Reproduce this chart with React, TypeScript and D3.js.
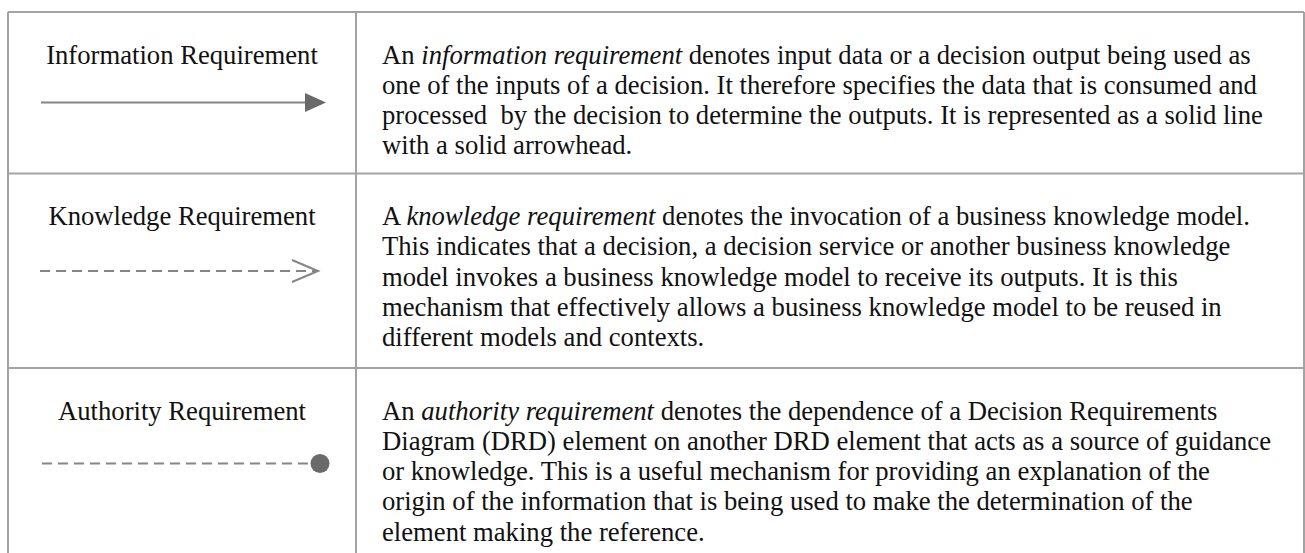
import { line, scaleLinear } from "d3";

// table content
const labels = ["Information Requirement", "Knowledge Requirement", "Authority Requirement"];

const connectors = ["solid-arrow", "dashed-open", "dashed-dot"];

// *...* marks the italic term
const infoLines = [
  "An *information requirement* denotes input data or a decision output being used as",
  "one of the inputs of a decision. It therefore specifies the data that is consumed and",
  "processed  by the decision to determine the outputs. It is represented as a solid line",
  "with a solid arrowhead.",
];
const knowledgeLines = [
  "A *knowledge requirement* denotes the invocation of a business knowledge model.",
  "This indicates that a decision, a decision service or another business knowledge",
  "model invokes a business knowledge model to receive its outputs. It is this",
  "mechanism that effectively allows a business knowledge model to be reused in",
  "different models and contexts.",
];
const authorityLines = [
  "An *authority requirement* denotes the dependence of a Decision Requirements",
  "Diagram (DRD) element on another DRD element that acts as a source of guidance",
  "or knowledge. This is a useful mechanism for providing an explanation of the",
  "origin of the information that is being used to make the determination of the",
  "element making the reference.",
];
const descriptions = [infoLines, knowledgeLines, authorityLines];

const width = 1305;
const height = 553;
const table = { left: 8, right: 1304, top: 12, divider: 356 };
const rowHeights = [161.5, 194.5, 220];
const lineHeight = 30.3;
const firstBaseline = 51.5;
const textX = 382;
const font = "'Liberation Serif', 'Times New Roman', serif";
const fontSize = 26.67;
const border = "#a3a3a3";
const grey = "#858585";
const dark = "#6a6a6a";

// arrow sits this far below the label baseline
const arrowDrop: Record<string, number> = {
  "solid-arrow": 39,
  "dashed-open": 46,
  "dashed-dot": 44,
};

const rowTops = rowHeights.reduce<number[]>(
  (acc, h, i) => [...acc, acc[i] + h],
  [table.top]
);

const pathOf = line<[number, number]>();

const Connector = ({ kind, y }: { kind: string; y: number }) => {
  const x = scaleLinear().domain([0, 1]).range([41, 326]);
  if (kind === "solid-arrow") {
    return (
      <g>
        <path d={pathOf([[x(0), y], [306, y]]) ?? ""} stroke={grey} strokeWidth={2} />
        <path
          d={pathOf([[305, y - 9.5], [x(1), y], [305, y + 9.5]]) + "Z"}
          fill={dark}
        />
      </g>
    );
  }
  if (kind === "dashed-open") {
    return (
      <g>
        <path
          d={pathOf([[x(0) - 1, y], [316, y]]) ?? ""}
          stroke={grey}
          strokeWidth={2}
          strokeDasharray="10,6"
        />
        <path
          d={pathOf([[292, y - 11], [318, y], [292, y + 11]]) ?? ""}
          stroke={grey}
          strokeWidth={2}
          fill="none"
        />
      </g>
    );
  }
  return (
    <g>
      <path
        d={pathOf([[x(0) + 1, y], [309, y]]) ?? ""}
        stroke={grey}
        strokeWidth={2}
        strokeDasharray="10,6"
      />
      <circle cx={320} cy={y} r={9.5} fill={dark} />
    </g>
  );
};

const Line = ({ text, x, y }: { text: string; x: number; y: number }) => (
  <text x={x} y={y} style={{ whiteSpace: "pre" }}>
    {text.split("*").map((part, i) => (
      <tspan key={i} fontStyle={i % 2 ? "italic" : "normal"}>
        {part}
      </tspan>
    ))}
  </text>
);

export default function App() {
  const bottom = height + 20;
  return (
    <svg
      width={width}
      height={height}
      style={{ position: "absolute", left: 0, top: 0, background: "#fff" }}
      fontFamily={font}
      fontSize={fontSize}
    >
      {/* cell borders */}
      <g stroke={border} strokeWidth={2}>
        <line x1={table.left} x2={table.right} y1={table.top} y2={table.top} />
        {rowTops.slice(1, 3).map((y, i) => (
          <line key={i} x1={table.left} x2={table.right} y1={y} y2={y} />
        ))}
        <line x1={table.left} x2={table.left} y1={table.top} y2={bottom} />
        <line x1={table.divider} x2={table.divider} y1={table.top} y2={bottom} />
        <line x1={table.right} x2={table.right} y1={table.top} y2={bottom} />
      </g>
      {labels.map((label, r) => {
        const base = rowTops[r] + firstBaseline;
        return (
          <g key={label} fill="#111">
            <text x={(table.left + table.divider) / 2} y={base} textAnchor="middle">
              {label}
            </text>
            <Connector kind={connectors[r]} y={base + arrowDrop[connectors[r]]} />
            {descriptions[r].map((t, i) => (
              <Line key={i} text={t} x={textX} y={base + i * lineHeight} />
            ))}
          </g>
        );
      })}
    </svg>
  );
}
